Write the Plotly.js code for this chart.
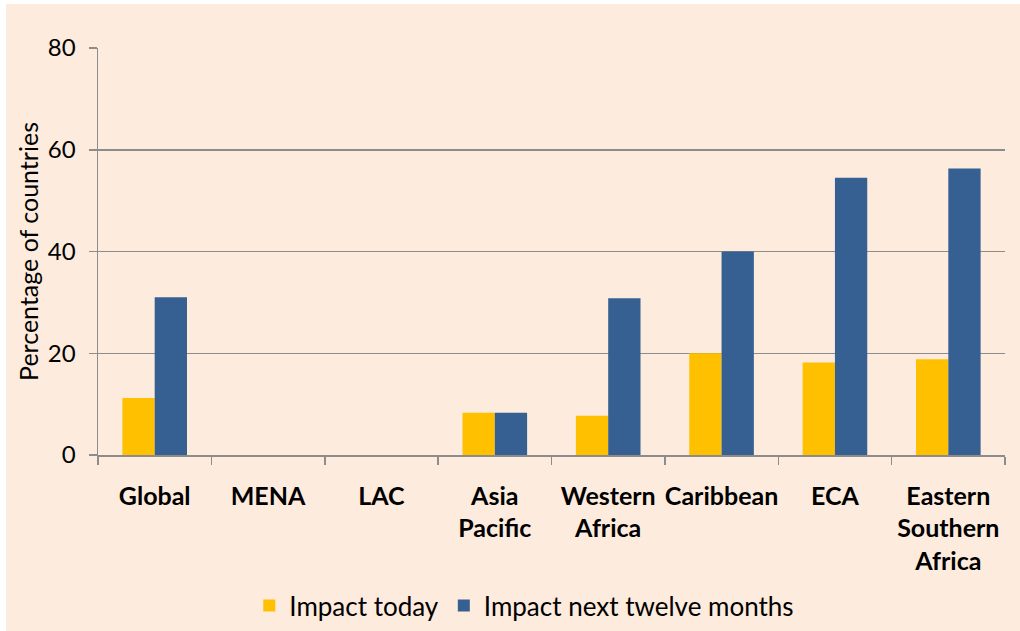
<!DOCTYPE html>
<html>
<head>
<meta charset="utf-8">
<script src="https://cdn.plot.ly/plotly-3.0.1.min.js"></script>
<style>
  html, body { margin: 0; padding: 0; background: #ffffff; }
  #chart { position: absolute; left: 6px; top: 4px; width: 1014px; height: 627px; }
</style>
</head>
<body>
<div id="chart"></div>
<script>
const categories = ["Global", "MENA", "LAC", "Asia<br>Pacific", "Western<br>Africa", "Caribbean", "ECA", "Eastern<br>Southern<br>Africa"];
const impactToday = [11.2, 0, 0, 8.3, 7.7, 20.0, 18.2, 18.8];
const impactNext12 = [31.0, 0, 0, 8.3, 30.8, 40.0, 54.5, 56.3];
const seriesNames = ["Impact today", "Impact next twelve months"];
const yTicks = [0, 20, 40, 60, 80];

const FONT = "Lato, 'Open Sans', 'DejaVu Sans', sans-serif";

const traces = [
  { type: "bar", name: seriesNames[0], x: categories, y: impactToday,
    marker: { color: "#FFC000" } },
  { type: "bar", name: seriesNames[1], x: categories, y: impactNext12,
    marker: { color: "#376092" } }
];

const layout = {
  width: 1014, height: 627,
  paper_bgcolor: "#FDEBDD",
  plot_bgcolor: "#FDEBDD",
  margin: { l: 92, r: 15, t: 44, b: 176, autoexpand: false },
  font: { family: FONT, color: "#000000", size: 20 },
  barmode: "group",
  bargap: 0.43,
  bargroupgap: 0,
  showlegend: true,
  legend: {
    orientation: "h", x: 0.47, xanchor: "center", y: -0.37, yanchor: "middle",
    font: { family: FONT, size: 26, color: "#000" }, bgcolor: "rgba(0,0,0,0)",
    itemwidth: 30, traceorder: "normal"
  },
  xaxis: {
    type: "category",
    tickson: "boundaries",
    ticks: "outside", ticklen: 8, tickcolor: "#8C8C8C", tickwidth: 1.5,
    showline: true, linecolor: "#8C8C8C", linewidth: 1.5,
    showgrid: false,
    tickfont: { family: FONT, size: 25, color: "#000", weight: "bold" },
    ticklabelstandoff: 18,
    tickangle: 0,
    fixedrange: true
  },
  yaxis: {
    range: [0, 80],
    tickvals: yTicks,
    ticks: "outside", ticklen: 8, tickcolor: "#8C8C8C", tickwidth: 1.5,
    showline: true, linecolor: "#8C8C8C", linewidth: 1.5,
    showgrid: true, gridcolor: "#8C8C8C", gridwidth: 1.5,
    zeroline: false,
    tickfont: { family: FONT, size: 24, color: "#000" },
    ticklabelstandoff: 8,
    title: { text: "Percentage of countries", font: { family: FONT, size: 25, color: "#000" }, standoff: 2 },
    fixedrange: true
  }
};

Plotly.newPlot("chart", traces, layout, { displayModeBar: false, staticPlot: true });
</script>
</body>
</html>
